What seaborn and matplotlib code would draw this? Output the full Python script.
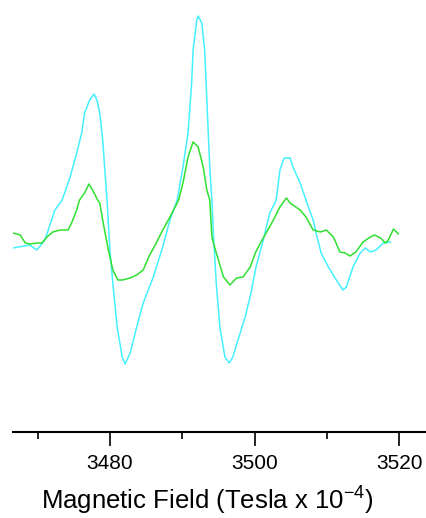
import matplotlib
matplotlib.use("Agg")
import matplotlib.pyplot as plt
import seaborn as sns
import pandas as pd
from matplotlib.ticker import MultipleLocator

# Magnetic field (Tesla x 10^-4) and EPR signal (arbitrary units)
cyan_field = [3466.6, 3468.9, 3469.9, 3471.0, 3471.7, 3472.4, 3473.4, 3474.5, 3475.4, 3476.1,
              3476.5, 3477.2, 3477.8, 3478.2, 3478.6, 3479.0, 3479.6, 3480.0, 3480.4, 3481.0,
              3481.7, 3482.1, 3482.8, 3483.7, 3484.6, 3486.0, 3487.3, 3488.3, 3489.3, 3490.1,
              3490.8, 3491.3, 3491.5, 3492.0, 3492.2, 3492.7, 3493.1, 3493.4, 3493.8, 3494.1,
              3494.3, 3494.7, 3495.2, 3495.9, 3496.5, 3497.0, 3497.7, 3498.7, 3499.5, 3500.2,
              3501.2, 3502.1, 3503.0, 3503.5, 3504.1, 3504.9, 3505.3, 3506.3, 3507.1, 3508.1,
              3508.5, 3509.2, 3510.2, 3511.3, 3512.2, 3512.7, 3513.6, 3514.6, 3515.3, 3516.0,
              3516.8, 3517.8, 3518.8]
cyan_signal = [52, 55, 50, 60, 75, 90, 100, 123, 147, 167,
               187, 200, 206, 200, 187, 160, 100, 50, 17, -27,
               -57, -64, -53, -27, -3, 23, 53, 80, 100, 133,
               167, 217, 250, 280, 284, 277, 250, 200, 133, 100,
               67, 17, -27, -57, -63, -57, -40, -17, 7, 33,
               60, 87, 100, 130, 142, 142, 133, 117, 100, 80,
               67, 47, 33, 20, 10, 13, 33, 47, 52, 48,
               50, 57, 58]

green_field = [3466.6, 3467.6, 3468.3, 3469.0, 3469.9, 3470.6, 3471.3, 3472.1, 3473.1, 3474.2,
               3474.7, 3475.4, 3475.8, 3476.5, 3477.1, 3477.6, 3478.3, 3478.6, 3479.0, 3479.7,
               3480.4, 3481.1, 3481.7, 3482.8, 3483.7, 3484.6, 3485.5, 3486.4, 3487.3, 3488.3,
               3489.3, 3489.5, 3490.1, 3490.8, 3491.5, 3492.2, 3492.9, 3493.4, 3493.8, 3494.1,
               3494.3, 3495.0, 3495.7, 3496.6, 3497.5, 3498.4, 3499.4, 3500.1, 3500.8, 3501.6,
               3502.6, 3503.5, 3504.2, 3504.4, 3504.9, 3506.3, 3507.1, 3508.1, 3509.1, 3509.9,
               3510.9, 3511.8, 3512.5, 3513.2, 3514.0, 3515.0, 3516.0, 3516.6, 3517.4, 3518.1,
               3518.5, 3519.2, 3519.9]
green_signal = [67, 65, 57, 56, 57, 57, 63, 68, 70, 70,
                77, 90, 100, 107, 116, 110, 100, 97, 80, 53,
                30, 20, 20, 22, 25, 30, 45, 57, 70, 83,
                97, 100, 117, 143, 158, 153, 133, 110, 100, 63,
                57, 40, 23, 15, 22, 23, 33, 47, 57, 67,
                80, 93, 100, 102, 97, 90, 83, 70, 68, 70,
                63, 48, 47, 44, 48, 58, 63, 65, 62, 57,
                60, 71, 66]

fig = plt.figure(figsize=(4.26, 5.18), dpi=100)
sns.set_style("white")
plt.rcParams['font.family'] = ['Liberation Sans', 'DejaVu Sans']

ax = fig.add_axes([13 / 426, 1 - 432 / 518, 1 - 13 / 426, 432 / 518])

df_c = pd.DataFrame({"field": cyan_field, "signal": cyan_signal})
df_g = pd.DataFrame({"field": green_field, "signal": green_signal})
sns.lineplot(data=df_c, x="field", y="signal", ax=ax, color="#45F0FF", linewidth=1.1, sort=False)
sns.lineplot(data=df_g, x="field", y="signal", ax=ax, color="#30E030", linewidth=1.1, sort=False)

ax.set_xlim(3466.6, 3523.7)
ax.set_ylim(-132, 300)

for s in ["top", "right", "left"]:
    ax.spines[s].set_visible(False)
ax.spines["bottom"].set_color("black")
ax.spines["bottom"].set_linewidth(1.5)

ax.set_yticks([])
ax.set_ylabel("")
ax.xaxis.set_major_locator(MultipleLocator(20))
ax.xaxis.set_minor_locator(MultipleLocator(10))
ax.tick_params(axis="x", which="major", direction="out", length=10, width=1.2,
               color="black", labelsize=15, labelcolor="black", pad=6, bottom=True)
ax.tick_params(axis="x", which="minor", direction="out", length=5, width=1.2,
               color="black", bottom=True)
ax.set_xlabel("Magnetic Field (Tesla x 10$^{\\mathregular{-4}}$)", fontsize=18.5,
              color="black", labelpad=7)
ax.xaxis.label.set_x(0.47)

fig.savefig("out.png", dpi=100)
